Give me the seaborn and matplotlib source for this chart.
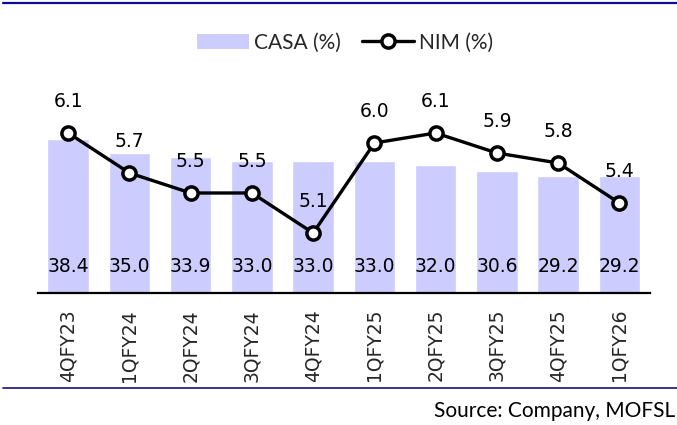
import seaborn as sns
import matplotlib.pyplot as plt
from matplotlib.lines import Line2D
from matplotlib.patches import Patch

# Data
quarters = ['4QFY23', '1QFY24', '2QFY24', '3QFY24', '4QFY24',
            '1QFY25', '2QFY25', '3QFY25', '4QFY25', '1QFY26']
casa = [38.4, 35.0, 33.9, 33.0, 33.0, 33.0, 32.0, 30.6, 29.2, 29.2]
nim = [6.1, 5.7, 5.5, 5.5, 5.1, 6.0, 6.1, 5.9, 5.8, 5.4]

sns.set_style('white')
plt.rcParams['font.family'] = ['DejaVu Sans']

fig = plt.figure(figsize=(6.77, 4.25), dpi=100)
ax = fig.add_axes([0.0555, 0.3106, 0.9046, 0.4706])

# Bars for CASA on the left axis
sns.barplot(x=quarters, y=casa, color='#ccccff', saturation=1, width=0.68, ax=ax)
ax.set_ylim(0, 50)
ax.set_xlim(-0.5, 9.5)

# Line for NIM on a twin axis
ax2 = ax.twinx()
sns.lineplot(x=list(range(len(nim))), y=nim, color='black', linewidth=2.4,
             marker='o', markersize=9.5, markerfacecolor='white',
             markeredgecolor='black', markeredgewidth=2.5, ax=ax2)
ax2.set_ylim(4.5, 6.5)
ax2.set_xlim(-0.5, 9.5)

# Value labels
for i, v in enumerate(casa):
    ax.annotate(f'{v:.1f}', (i, 0), xytext=(0, 19), textcoords='offset points',
                ha='center', va='center', fontsize=13.5, color='black')
for i, v in enumerate(nim):
    ax2.annotate(f'{v:.1f}', (i, v), xytext=(0, 23), textcoords='offset points',
                 ha='center', va='center', fontsize=13.5, color='black')

# Axis styling
for a in (ax, ax2):
    for s in ['top', 'right', 'left']:
        a.spines[s].set_visible(False)
    a.set_yticks([])
    a.set_ylabel('')
ax2.spines['bottom'].set_visible(False)
ax.spines['bottom'].set_color('black')
ax.spines['bottom'].set_linewidth(1.6)
ax.tick_params(axis='x', length=0, pad=11.5, labelsize=13.5, rotation=90)
ax.set_xlabel('')

# Legend
handles = [
    Patch(facecolor='#ccccff', edgecolor='none', label='CASA (%)'),
    Line2D([0], [0], color='black', linewidth=2.4, marker='o', markersize=9.5,
           markerfacecolor='white', markeredgecolor='black', markeredgewidth=2.5,
           label='NIM (%)'),
]
fig.legend(handles=handles, loc='center', bbox_to_anchor=(0.51, 0.9),
           ncol=2, frameon=False, prop={'family': 'Lato', 'size': 15},
           handlelength=2.5, handletextpad=0.25, columnspacing=1.0)

# Rules at top and bottom
fig.add_artist(Line2D([0.004, 1.0], [1 - 3 / 425, 1 - 3 / 425], color='#0b0b99', linewidth=1.6))
fig.add_artist(Line2D([0.004, 1.0], [1 - 388 / 425, 1 - 388 / 425], color='#17137d', linewidth=1.2))

fig.text(0.997, 1 - 411 / 425, 'Source: Company, MOFSL', ha='right', va='center',
         fontsize=15, family='Lato', color='black')

fig.savefig('out.png', dpi=100)
